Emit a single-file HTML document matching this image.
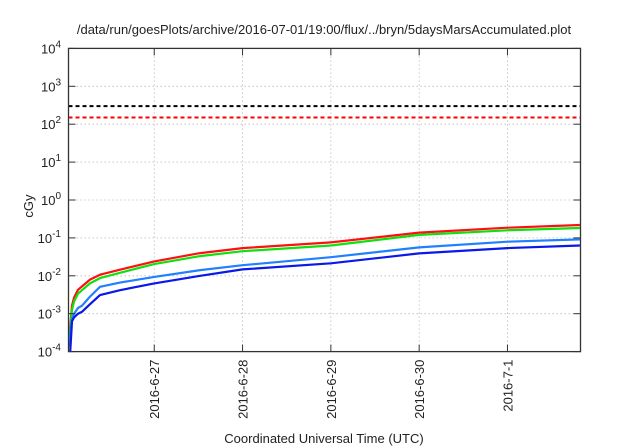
<!DOCTYPE html>
<html><head><meta charset="utf-8"><style>
body{margin:0;background:#fff;}
svg{display:block;font-family:"Liberation Sans",sans-serif;}
</style></head><body>
<svg id="chart" width="640" height="448" xmlns="http://www.w3.org/2000/svg">
<text x="324" y="34" font-size="13" text-anchor="middle" fill="#222">/data/run/goesPlots/archive/2016-07-01/19:00/flux/../bryn/5daysMarsAccumulated.plot</text>
<text x="0" y="0" font-size="13" text-anchor="middle" fill="#222" transform="translate(33,206) rotate(-90)">cGy</text>
<text x="324" y="443" font-size="13" text-anchor="middle" fill="#222">Coordinated Universal Time (UTC)</text>
<g id="grid"></g><g id="series"></g><g id="axes"></g>
</svg>
<script>
const tickDays = [1, 2, 3, 4, 5];
const tickLabels = ["2016-6-27", "2016-6-28", "2016-6-29", "2016-6-30", "2016-7-1"];
const yExps = [-4, -3, -2, -1, 0, 1, 2, 3, 4];
const days = [0.0, 0.046, 0.069, 0.091, 0.137, 0.182, 0.272, 0.386, 0.612, 1.0, 1.52, 2.0, 3.0, 4.0, 5.0, 5.82];
const redLog = [-3.7, -3.4, -2.79, -2.58, -2.37, -2.28, -2.1, -1.97, -1.84, -1.62, -1.4, -1.27, -1.12, -0.86, -0.73, -0.66];
const greenLog = [-3.8, -3.5, -2.9, -2.68, -2.47, -2.38, -2.2, -2.06, -1.92, -1.69, -1.48, -1.35, -1.2, -0.92, -0.8, -0.74];
const lblueLog = [-4.2, -3.6, -3.14, -3.0, -2.85, -2.79, -2.55, -2.29, -2.18, -2.03, -1.85, -1.72, -1.51, -1.25, -1.1, -1.04];
const dblueLog = [-4.5, -4.1, -3.2, -3.1, -3.0, -2.95, -2.75, -2.51, -2.38, -2.2, -2.0, -1.83, -1.67, -1.41, -1.27, -1.2];
const seriesLogs = [redLog, greenLog, lblueLog, dblueLog];
const seriesColors = ["#ff1010", "#10e010", "#2080ff", "#0a18e8"];
const seriesNames = ["series-red", "series-green", "series-light-blue", "series-dark-blue"];
const limits = [300, 150];
const limitColors = ["#000", "#ff0000"];
const limitNames = ["limit-line-300", "limit-line-150"];

const X0 = 68.5, X1 = 580.5, Y0 = 351.6, Y1 = 48.4;
const D0 = 0.029, D1 = 5.827;
const xS = d => X0 + (d - D0) / (D1 - D0) * (X1 - X0);
const yS = v => Y0 - (Math.log10(v) + 4) / 8 * (Y0 - Y1);
const NS = "http://www.w3.org/2000/svg";
function mk(tag, attrs, parent) {
  const e = document.createElementNS(NS, tag);
  for (const k in attrs) e.setAttribute(k, attrs[k]);
  parent.appendChild(e); return e;
}
const grid = document.getElementById('grid'), ser = document.getElementById('series'), ax = document.getElementById('axes');
yExps.forEach(k => {
  const y = yS(Math.pow(10, k));
  if (k > -4 && k < 4) {
    const g = mk('line', {x1: X0, x2: X1, y1: y, y2: y, stroke: '#bbb', 'stroke-width': 0.8, 'stroke-dasharray': '1.5,2.5'}, grid);
    
    
  }
  const t1 = mk('line', {x1: X0, x2: X0 + 7, y1: y, y2: y, stroke: '#333'}, ax);
  
  
  const t2 = mk('line', {x1: X1 - 7, x2: X1, y1: y, y2: y, stroke: '#333'}, ax);
  
  
  const lab = mk('text', {x: 61, y: y + 5, 'font-size': 13, 'text-anchor': 'end', fill: '#222'}, ax);
  
  
  lab.textContent = '10';
  const sup = mk('tspan', {dy: -6, 'font-size': 10}, lab);
  sup.textContent = String(k);
});
tickDays.forEach((d, i) => {
  const x = xS(d);
  const g = mk('line', {x1: x, x2: x, y1: Y1, y2: Y0, stroke: '#bbb', 'stroke-width': 0.8, 'stroke-dasharray': '1.5,2.5'}, grid);
  
  
  const t1 = mk('line', {x1: x, x2: x, y1: Y0 - 7, y2: Y0, stroke: '#333'}, ax);
  
  
  const t2 = mk('line', {x1: x, x2: x, y1: Y1, y2: Y1 + 7, stroke: '#333'}, ax);
  
  
  const lab = mk('text', {x: 0, y: 0, 'font-size': 13, 'text-anchor': 'end', fill: '#222', transform: `translate(${x + 5},${Y0 + 8}) rotate(-90)`}, ax);
  
  
  lab.textContent = tickLabels[i];
});
const clip = mk('clipPath', {id: 'pc'}, document.getElementById('chart'));
mk('rect', {x: X0, y: Y1, width: X1 - X0, height: Y0 - Y1}, clip);
ser.setAttribute('clip-path', 'url(#pc)');
limits.forEach((v, i) => {
  const y = yS(v);
  const l = mk('line', {x1: X0, x2: X1, y1: y, y2: y, stroke: limitColors[i], 'stroke-width': 2, 'stroke-dasharray': '4,3'}, ser);
  
  
});
seriesLogs.forEach((arr, i) => {
  const pts = arr.map((lv, j) => xS(days[j]).toFixed(1) + ',' + yS(Math.pow(10, lv)).toFixed(1)).join(' ');
  const p = mk('polyline', {points: pts, fill: 'none', stroke: seriesColors[i], 'stroke-width': 2.2, 'stroke-linejoin': 'round'}, ser);
  
  
});
const fr = mk('rect', {x: X0, y: Y1, width: X1 - X0, height: Y0 - Y1, fill: 'none', stroke: '#333', 'stroke-width': 1.3}, ax);


</script>
</body></html>
